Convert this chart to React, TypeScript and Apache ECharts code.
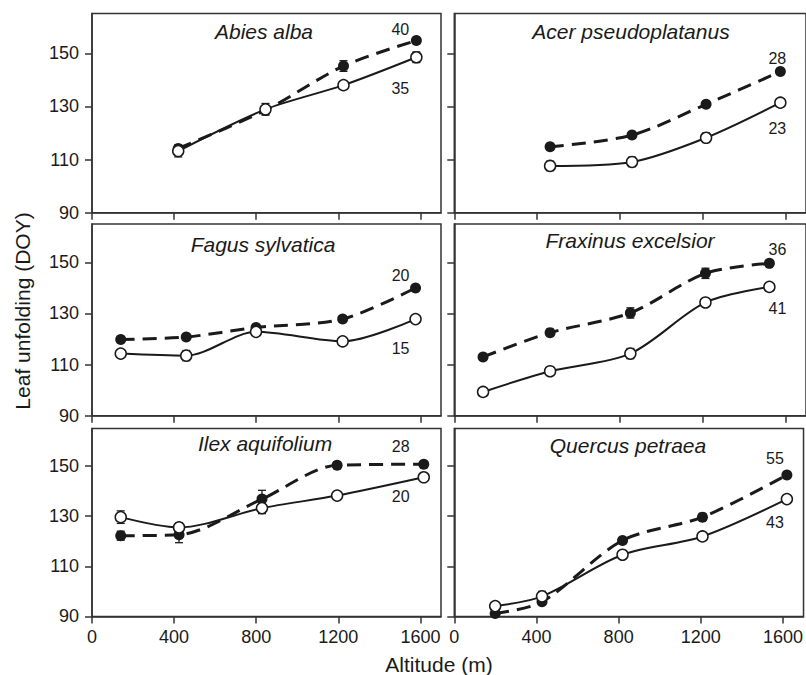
import React, { useEffect, useRef } from "react";
import * as echarts from "echarts";

// ---- Data ----
const xTicks = [0, 400, 800, 1200, 1600];
const yTicks = [90, 110, 130, 150];

const speciesNames = [
  "Abies alba",
  "Acer pseudoplatanus",
  "Fagus sylvatica",
  "Fraxinus excelsior",
  "Ilex aquifolium",
  "Quercus petraea",
];

// altitude (m) of the sites for each species
const altAbies = [420, 845, 1225, 1580];
const altAcer = [463, 859, 1217, 1576];
const altFagus = [140, 459, 799, 1221, 1576];
const altFraxinus = [139, 463, 851, 1214, 1523];
const altIlex = [140, 424, 828, 1194, 1616];
const altQuercus = [199, 427, 819, 1208, 1619];

// leaf unfolding DOY – filled symbols (dashed line)
const filledAbies = [114.2, 128.6, 145.2, 154.8];
const filledAcer = [114.8, 119.2, 130.8, 143.1];
const filledFagus = [119.8, 120.8, 124.5, 127.8, 140.0];
const filledFraxinus = [113.0, 122.5, 130.2, 145.7, 149.6];
const filledIlex = [122.2, 122.6, 136.8, 150.3, 150.7];
const filledQuercus = [91.2, 95.8, 120.3, 129.6, 146.4];

// leaf unfolding DOY – open symbols (solid line)
const openAbies = [113.2, 128.9, 138.0, 148.5];
const openAcer = [107.6, 109.1, 118.2, 131.4];
const openFagus = [114.3, 113.5, 122.8, 119.1, 127.8];
const openFraxinus = [99.3, 107.4, 114.3, 134.3, 140.4];
const openIlex = [129.6, 125.5, 133.2, 138.2, 145.5];
const openQuercus = [94.1, 98.0, 114.6, 121.9, 136.8];

// standard errors
const errFilledAbies = [1.2, 1.5, 2.0, 1.0];
const errOpenAbies = [2.2, 2.2, 1.2, 2.0];
const errFilledAcer = [0.8, 0.8, 0.8, 0.8];
const errOpenAcer = [1.8, 1.8, 1.8, 1.2];
const errFilledFagus = [0.8, 0.8, 0.8, 0.8, 0.8];
const errOpenFagus = [0.8, 2.0, 0.8, 0.8, 1.2];
const errFilledFraxinus = [0.8, 0.8, 2.0, 2.0, 0.8];
const errOpenFraxinus = [1.5, 1.5, 2.0, 0.8, 0.8];
const errFilledIlex = [1.8, 3.2, 3.5, 1.2, 0.8];
const errOpenIlex = [2.5, 1.8, 2.2, 1.2, 1.2];
const errFilledQuercus = [0.8, 0.8, 0.8, 1.2, 0.8];
const errOpenQuercus = [0.8, 2.0, 1.2, 0.8, 0.8];

// sample sizes shown next to the last points
const nFilled = ["40", "28", "20", "36", "28", "55"];
const nOpen = ["35", "23", "15", "41", "20", "43"];

const alts = [altAbies, altAcer, altFagus, altFraxinus, altIlex, altQuercus];
const filled = [filledAbies, filledAcer, filledFagus, filledFraxinus, filledIlex, filledQuercus];
const opened = [openAbies, openAcer, openFagus, openFraxinus, openIlex, openQuercus];
const errF = [errFilledAbies, errFilledAcer, errFilledFagus, errFilledFraxinus, errFilledIlex, errFilledQuercus];
const errO = [errOpenAbies, errOpenAcer, errOpenFagus, errOpenFraxinus, errOpenIlex, errOpenQuercus];

// ---- Layout ----
const FONT = "'Liberation Sans', Arial, Helvetica, sans-serif";
const INK = "#1a1a1a";
const AXIS = "#333";
const cols = [
  { left: 92, width: 349 },
  { left: 454.3, width: 354.3 },
];
const rows = [
  { top: 13.4, height: 199.3 },
  { top: 224, height: 191.7 },
  { top: 428.4, height: 188 },
];
const titlePos = [
  [264, 31],
  [631, 31],
  [263, 244],
  [630, 240],
  [265, 443],
  [628, 445],
];
const offFilled = [
  [-16, -11],
  [-3, -13],
  [-15, -12],
  [8, -14],
  [-23, -18],
  [-12, -17],
];
const offOpen = [
  [-16, 31],
  [-3, 26],
  [-15, 29],
  [8, 22],
  [-23, 19],
  [-12, 23],
];

function errSeries(gi: number, xs: number[], ys: number[], es: number[]) {
  return {
    type: "custom",
    xAxisIndex: gi,
    yAxisIndex: gi,
    z: 2,
    silent: true,
    data: xs.map((x, k) => [x, ys[k], es[k]]),
    renderItem: (params: any, api: any) => {
      const x = api.value(0);
      const y = api.value(1);
      const e = api.value(2);
      const lo = api.coord([x, y - e]);
      const hi = api.coord([x, y + e]);
      const w = 4;
      const style = { stroke: INK, lineWidth: 1.3 };
      return {
        type: "group",
        children: [
          { type: "line", shape: { x1: lo[0], y1: lo[1], x2: hi[0], y2: hi[1] }, style },
          { type: "line", shape: { x1: lo[0] - w, y1: lo[1], x2: lo[0] + w, y2: lo[1] }, style },
          { type: "line", shape: { x1: hi[0] - w, y1: hi[1], x2: hi[0] + w, y2: hi[1] }, style },
        ],
      };
    },
  };
}

function lineData(xs: number[], ys: number[], label: string, off: number[]) {
  return xs.map((x, k) => {
    if (k === xs.length - 1) {
      return {
        value: [x, ys[k]],
        label: {
          show: true,
          position: "inside",
          offset: off,
          formatter: label,
          fontSize: 16,
          fontFamily: FONT,
          color: INK,
        },
      };
    }
    return { value: [x, ys[k]] };
  });
}

export default function App() {
  const ref = useRef<HTMLDivElement>(null);

  useEffect(() => {
    if (!ref.current) return;
    const chart = echarts.init(ref.current, undefined, { renderer: "svg" });

    const grid: any[] = [];
    const xAxis: any[] = [];
    const yAxis: any[] = [];
    const series: any[] = [];
    const graphic: any[] = [];

    for (let i = 0; i < 6; i++) {
      const r = Math.floor(i / 2);
      const c = i % 2;
      grid.push({
        left: cols[c].left,
        top: rows[r].top,
        width: cols[c].width,
        height: rows[r].height,
        show: true,
        borderColor: AXIS,
        borderWidth: 1.5,
        backgroundColor: "transparent",
      });
      xAxis.push({
        type: "value",
        gridIndex: i,
        min: 0,
        max: 1700,
        interval: 400,
        axisLine: { show: true, lineStyle: { color: AXIS, width: 1.5 } },
        axisTick: {
          show: true,
          inside: false,
          length: 7,
          customValues: xTicks,
          lineStyle: { color: AXIS, width: 1.5 },
        },
        axisLabel: {
          show: r === 2,
          customValues: xTicks,
          formatter: (v: number) => (xTicks.indexOf(v) >= 0 ? String(v) : ""),
          fontSize: 18,
          fontFamily: FONT,
          color: INK,
          margin: 12,
        },
        splitLine: { show: false },
      });
      yAxis.push({
        type: "value",
        gridIndex: i,
        min: 90,
        max: 165,
        interval: 10,
        axisLine: { show: true, lineStyle: { color: AXIS, width: 1.5 } },
        axisTick: {
          show: true,
          inside: false,
          length: 7,
          customValues: yTicks,
          lineStyle: { color: AXIS, width: 1.5 },
        },
        axisLabel: {
          show: c === 0,
          customValues: yTicks,
          formatter: (v: number) => (yTicks.indexOf(v) >= 0 ? String(v) : ""),
          fontSize: 18,
          fontFamily: FONT,
          color: INK,
          margin: 13,
        },
        splitLine: { show: false },
      });

      series.push(errSeries(i, alts[i], filled[i], errF[i]));
      series.push(errSeries(i, alts[i], opened[i], errO[i]));
      series.push({
        type: "line",
        xAxisIndex: i,
        yAxisIndex: i,
        z: 3,
        smooth: 0.3,
        symbol: "circle",
        symbolSize: 11,
        data: lineData(alts[i], filled[i], nFilled[i], offFilled[i]),
        lineStyle: { color: INK, width: 3, type: [14, 8] },
        itemStyle: { color: INK, borderColor: INK, borderWidth: 0 },
      });
      series.push({
        type: "line",
        xAxisIndex: i,
        yAxisIndex: i,
        z: 4,
        smooth: 0.3,
        symbol: "circle",
        symbolSize: 11,
        data: lineData(alts[i], opened[i], nOpen[i], offOpen[i]),
        lineStyle: { color: INK, width: 2 },
        itemStyle: { color: "#fff", borderColor: INK, borderWidth: 1.5 },
      });

      graphic.push({
        type: "text",
        x: titlePos[i][0],
        y: titlePos[i][1],
        style: {
          text: speciesNames[i],
          fontSize: 21,
          fontStyle: "italic",
          fontFamily: FONT,
          fill: INK,
          align: "center",
          verticalAlign: "middle",
        },
      });
    }

    graphic.push({
      type: "text",
      x: 22,
      y: 311,
      rotation: Math.PI / 2,
      style: {
        text: "Leaf unfolding (DOY)",
        fontSize: 21,
        fontFamily: FONT,
        fill: INK,
        align: "center",
        verticalAlign: "middle",
      },
    });
    graphic.push({
      type: "text",
      x: 439,
      y: 664,
      style: {
        text: "Altitude (m)",
        fontSize: 21,
        fontFamily: FONT,
        fill: INK,
        align: "center",
        verticalAlign: "middle",
      },
    });

    chart.setOption({
      animation: false,
      backgroundColor: "#fff",
      grid,
      xAxis,
      yAxis,
      series,
      graphic,
    });

    return () => chart.dispose();
  }, []);

  return (
    <div
      ref={ref}
      style={{ position: "absolute", left: 0, top: 0, width: 806, height: 675 }}
    />
  );
}
